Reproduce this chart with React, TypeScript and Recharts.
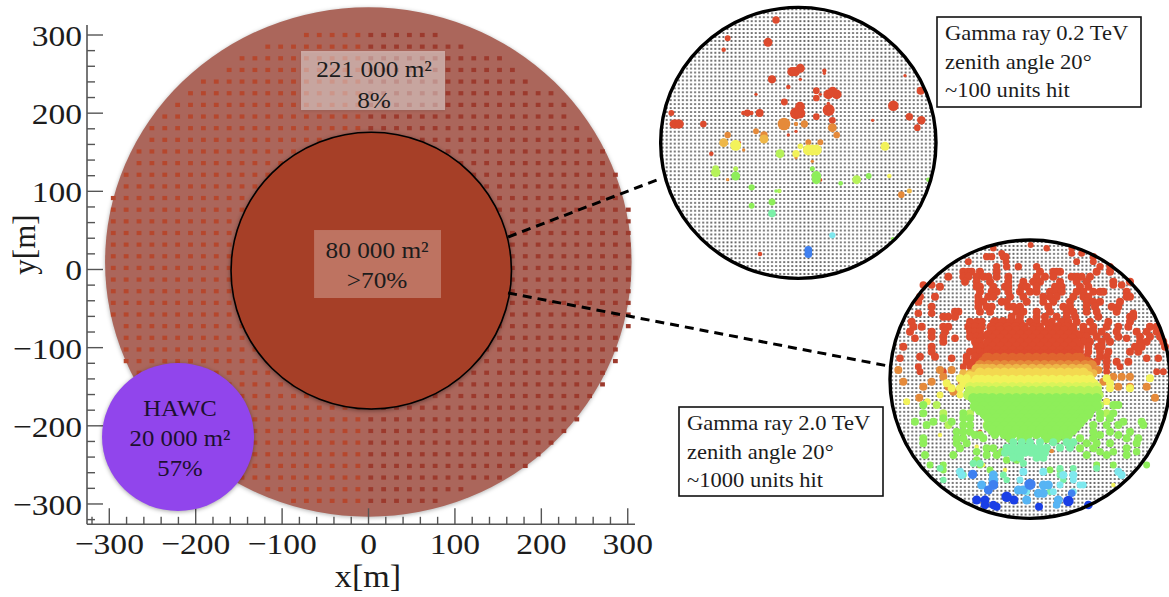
import React from 'react';
import { ScatterChart, Scatter, XAxis, YAxis, ZAxis, ReferenceArea, ReferenceLine } from 'recharts';

const SERIF = '"Liberation Serif", serif';
const WIDTH = 1169;
const HEIGHT = 597;

const xTicks = [-320,-300,-280,-260,-240,-220,-200,-180,-160,-140,-120,-100,-80,-60,-40,-20,0,20,40,60,80,100,120,140,160,180,200,220,240,260,280,300];
const yTicks = [-320,-300,-280,-260,-240,-220,-200,-180,-160,-140,-120,-100,-80,-60,-40,-20,0,20,40,60,80,100,120,140,160,180,200,220,240,260,280,300];
const xDomain = [-325.8, 308.4];
const yDomain = [-326, 312.8];

const unitColumns = [-295.4,-280.5,-265.6,-250.7,-235.8,-220.9,-206,-191.1,-176.2,-161.3,-146.4,-131.5,-116.6,-101.7,-86.8,-71.9,-57,-42.1,-27.2,-12.3,2.6,17.5,32.4,47.3,62.2,77.1,92,106.9,121.8,136.7,151.6,166.5,181.4,196.3,211.2,226.1,241,255.9,270.8,285.7,300.6];
const unitRows = [300,285.1,270.2,255.3,240.4,225.5,210.6,195.7,180.8,165.9,151,136.1,121.2,106.3,91.4,76.5,61.6,46.7,31.8,16.9,2,-12.9,-27.8,-42.7,-57.6,-72.5,-87.4,-102.3,-117.2,-132.1,-147,-161.9,-176.8,-191.7,-206.6,-221.5,-236.4,-251.3,-266.2,-281.1,-296];
const rowFirstColumn = [15,12,10,9,7,6,5,4,3,3,2,2,1,1,0,0,0,0,0,0,0,0,0,0,0,1,1,1,1,2,2,3,4,5,6,7,8,9,10,12,14];
const rowLastColumn = [25,27,30,31,32,34,35,35,36,37,38,38,39,39,39,40,40,40,40,40,40,40,40,40,40,40,39,39,39,38,38,37,36,36,35,34,33,32,30,27,25];

const units = unitRows.flatMap((y, r) =>
  unitColumns.filter((_, c) => c >= rowFirstColumn[r] && c <= rowLastColumn[r]).map((x) => ({ x, y })),
);
const unitsWest = units.filter((u) => u.x < 0);
const unitsEast = units.filter((u) => u.x >= 0);

const palette = ['#dd4b2e','#e0652f','#e58a3a','#eeb748','#f3d850','#f2f25a','#d9f45a','#b6f25a','#8eee5a','#7bf0a8','#7ee8ee','#56b4f4','#3f80f0','#1a3fe6'];

type Row = number[];
const event1Rows: Row[] = [
  [0,34,60,378],[0,22,115,233],[0,13,149,221],[0,50,127,354],[0,42,238,366],
  [0,55,215,426,436],[0,50,205,451],[0,7,238,451],[0,12,212,523],[0,7,220,523],[0,13,261,415],
  [0,28,272,499],[0,28,294,499],[0,7,283,318,511],[0,30,306,403],[0,60,283,535,560],[0,60,275,548],
  [0,7,310,535],[0,60,320,450],[0,90,340,438],[0,70,340,450],[0,90,330,536],[0,28,350,499],[0,30,361,547],
  [0,30,339,292],[0,13,339,280,304],[0,40,339,329],[0,22,339,64],[0,50,372,72,80,88],[0,28,372,160],
  [0,70,317,730],[0,35,350,778],[0,45,361,814],[0,28,383,802],[0,40,272,812],[0,7,227,765],[0,7,361,668],
  [0,7,540,512],[0,7,439,499],[0,7,427,268],[0,13,461,184],[0,13,762,330],[0,7,394,438],[0,7,405,415],
  [2,100,372,402],[2,34,372,463],[2,12,372,438],[2,50,383,547],[2,28,405,560],[2,22,394,318],[2,34,405,342],
  [2,26,405,233],[2,22,427,511,475],[2,28,584,754],[2,7,484,487],[2,7,539,233],[2,7,450,281],[2,7,473,438],
  [3,50,417,342],[3,50,428,221],[3,16,573,778],
  [5,75,436,257],[5,20,439,451],[5,75,450,475,487,499],[5,50,439,705],[5,13,528,718],[5,34,461,438],
  [7,50,461,390],[7,55,517,197],[7,28,506,197],[7,16,506,257],[7,50,539,620],[7,13,573,388],
  [8,50,528,257],[8,16,506,487],[8,60,528,499],[8,50,539,499],[8,25,562,305],[8,14,550,572],[8,22,528,656],
  [8,30,606,366],[8,22,617,305],[8,8,573,378],[8,13,539,835],[8,8,716,728],
  [9,38,640,366],[10,25,706,547],[12,38,750,475],[12,38,762,475],
];

const blobA = [325,349,373,397,421,445,469,493,517,541,565,589];
const blobB = [337,361,385,409,433,457,481,505,529,553,577];

const event2Rows: Row[] = [
  [0,22,30,452],[0,26,40,340,500,575],[0,30,55,365,575,605],[0,34,65,320,335,370,378,640],[0,30,80,378,265,590,640],
  [0,34,95,415,350,470,380,660,690],[0,40,110,250,265,275,300,350,690,480,540,530,650,520],
  [0,40,125,250,265,290,310,325,350,385,470,495,520,575,590,605,630,205],
  [0,40,140,255,290,330,385,430,460,480,540,590,620,700,750],
  [0,40,155,290,300,340,375,385,425,440,470,525,545,600,625,180],
  [0,40,170,300,335,350,385,420,450,470,510,530,545,590,610,640,660,670,740],
  [0,40,185,295,325,340,390,430,490,510,530,580,610,625,740,750,120,165],
  [0,40,200,295,310,365,380,440,490,520,570,620,640,660,115,720],
  [0,40,215,295,320,335,385,400,420,505,550,570,620,645,695,715,155],
  [0,40,230,235,225,300,330,410,430,470,510,560,580,620,650,710],
  [0,40,245,190,205,225,395,420,470,495,530,560,655,585,750,760],
  [0,40,260,95,270,290,305,450,470,495,515,545,565,590,630,685,750],
  [0,40,275,100,125,190,205,265,285,305,460,480,580,610,640,680,715,745,810,830],
  [0,40,290,90,155,195,270,285,300,610,625,640,665,710,770,800,830],
  [0,40,305,155,190,270,290,305,610,620,650,680,715,780,810,840],
  [0,40,320,190,285,300,610,630,665,690,780,800,850],
  [0,40,335,70,155,290,305,600,625,655,665,765,785,855],
  [0,40,350,155,270,285,300,315,600,625,660,685,750,775],
  [0,40,365,120,165,260,285,305,600,620,660,680],
  [0,40,380,260,280,300,630,650,680,710,745],
  [0,30,395,115,250,270,625,680,720],
  [0,30,410,120,190,610,680,830,850],
  [0,36,150,130,155,700,725],[0,36,235,115,155,760],[0,36,310,105,225,740],[0,36,370,60,215,800,835],
  [0,70,262,345,369,393,417],
  [0,70,277,335,359,383,407,431,510,534,558],
  [0,70,288,...blobB],[0,70,300,...blobA],[0,70,312,...blobB],[0,70,324,...blobA],[0,70,336,...blobB],[0,70,348,...blobA],[0,70,358,...blobB],
  [1,70,369,...blobA,320,600],[1,70,380,...blobB,310,600,620],
  [2,40,405,55,180,215,655,610],[2,40,425,190,725,750,700],[2,40,440,70,155,245,670],[2,40,455,130,205,715,750,800],[2,40,470,220],[2,40,488,118,825],[2,30,500,680],
  [2,70,391,...blobA,300,615,635],[3,70,402,...blobB,290,305,320,600,620],[3,40,415,250,270,620,640],[4,70,413,...blobA,300,610],
  [4,70,424,...blobB,270,290,310,600,625],
  [5,40,430,240,260,680,810],[5,40,445,200,250,270,690,630],[5,40,460,215,240,270,690,750],[5,30,480,280,180,240],[5,30,500,142,680,80],
  [5,70,435,...blobA,290,305,610,630],[5,70,446,...blobB,280,300,315,600,620,640],[6,70,457,...blobA,270,290,305,610,630,650],
  [7,70,468,...blobB,270,295,315,600,625,650],[7,70,479,...blobA,265,290,305,610,630,655],
  [7,40,510,170,660,710],[7,40,535,190,270,680],[7,40,570,205,320],
  [8,70,490,...blobB,280,300,315,600,625,650],[8,70,502,...blobA,300,610,635],[8,70,514,...blobB,285,310,600,625,650],
  [8,70,526,...blobA,300,610,630],[8,70,538,...blobB,315,600,625],[8,70,550,...blobA,610],[8,70,562,...blobB,600],
  [8,70,574,...blobA],[8,70,586,...blobB],[8,60,598,373,397,421,445,469,493,517,541,565],[8,60,610,390,425,440,500,530,560],
  [8,40,510,130,700,715],[8,40,535,130,250,660,700],[8,40,550,190,250,270,660,690],
  [8,40,570,140,250,270,640,680,715,790],[8,40,590,230,250,270,640,690,750],
  [8,40,610,130,230,250,310,640,600,740,775],[8,40,625,130,230,260,620,650,690,770],
  [8,40,640,240,320,340,600,640,740],[8,40,660,135,220,320,350,620,680,740],[8,34,675,290,380,410],[8,30,690,150,190,300,650,700,800],[8,30,705,190,330,510,540],
  [8,40,560,105,160,215,730,785],[8,40,600,285,300,345,660,715],[8,36,650,290,365,660,700,770],
  [9,40,622,400,425,450,480,520,560,580],[9,40,638,380,400,420,440,460,480,500,540,570],[9,40,653,375,395,415,435,455,475,495],[9,40,668,400,420,470,490],
  [9,34,685,280,300,430],[9,30,700,180,540,580,650],[9,30,720,250,370,540],[9,26,735,190,380,550],[9,26,770,510],
  [10,40,710,240,430,490,715],[10,40,720,245,725,550,580],[10,30,735,580,420],[10,30,750,600,610,540],[10,30,770,440,520,580],
  [11,50,720,340],[11,60,735,340],[11,50,750,305,490,505],[11,50,765,430,415],[11,50,775,475,490],[11,50,795,535,440],[11,36,810,530],
  [12,55,718,278],[12,80,748,450],[12,60,750,340],[12,50,765,325],[12,36,775,575],
  [13,50,795,290,315,402],[13,70,785,380],[13,70,798,565],[13,46,810,315,340,625],[13,40,815,350,477],
  [5,12,635,290],[5,12,600,180],[5,12,690,310],[5,12,750,700],[5,12,705,375],
  [0,12,545,475],[0,12,553,515],[0,12,495,350],[0,12,520,335],[1,12,590,300],[2,14,648,515],
];

const toHits = (rows: Row[]) =>
  rows.flatMap(([band, charge, row, ...columns]) => columns.map((col) => ({ col, row, charge, band })));
const event1Hits = toHits(event1Rows);
const event2Hits = toHits(event2Rows);

const areaLabels = {
  ring: ['221 000 m²', '8%'],
  core: ['80 000 m²', '>70%'],
  hawc: ['HAWC', '20 000 m²', '57%'],
};
const event1Lines = ['Gamma ray 0.2 TeV', 'zenith angle 20°', '~100 units hit'];
const event2Lines = ['Gamma ray 2.0 TeV', 'zenith angle 20°', '~1000 units hit'];

const STRETCH = 1.1;

function Stretched({ x, y, size, anchor = 'middle', children, fill = '#1c1c1c' }: any) {
  return (
    <text transform={`translate(${x},${y}) scale(${STRETCH},1)`} fontFamily={SERIF} fontSize={size} textAnchor={anchor} fill={fill}>
      {children}
    </text>
  );
}

const XTick = ({ x, y, payload }: any) => {
  const v = payload.value;
  const major = v % 100 === 0;
  return (
    <g>
      <line x1={x} x2={x} y1={y} y2={y - (major ? 16 : 7.5)} stroke="#555" strokeWidth={1.4} />
      {major && <Stretched x={x} y={y + 30} size={30.5}>{String(v).replace('-', '\u2212')}</Stretched>}
    </g>
  );
};

const YTick = ({ x, y, payload }: any) => {
  const v = payload.value;
  const major = v % 100 === 0;
  return (
    <g>
      <line x1={x} x2={x + (major ? 16 : 8)} y1={y} y2={y} stroke="#555" strokeWidth={1.4} />
      {major && <Stretched x={x - 5} y={y + 11} size={30.5} anchor="end">{String(v).replace('-', '\u2212')}</Stretched>}
    </g>
  );
};

const XTitle = () => <Stretched x={368} y={587} size={31}>x[m]</Stretched>;

const UnitMark = ({ cx, cy, fill }: any) => <rect x={cx - 2.4} y={cy - 2.1} width={4.8} height={4.2} fill={fill} />;

const oval = (fill: string, stroke: string, strokeWidth: number, filter?: string) => (p: any) => (
  <ellipse cx={p.x + p.width / 2} cy={p.y + p.height / 2} rx={p.width / 2} ry={p.height / 2} fill={fill} stroke={stroke} strokeWidth={strokeWidth} style={filter ? { filter } : undefined} />
);

const tintedBox = (fill: string, shadow: boolean, lines: string[], dy: number[], cx: number) => (p: any) => (
  <g>
    <rect x={p.x} y={p.y} width={p.width} height={p.height} fill={fill} style={shadow ? { filter: 'drop-shadow(0 1px 1px rgba(0,0,0,.25))' } : undefined} />
    {lines.map((t, i) => (
      <Stretched key={t} x={p.x + cx} y={p.y + dy[i]} size={23}>{t}</Stretched>
    ))}
  </g>
);

const hawcShape = (p: any) => (
  <g>
    {oval('#9145ec', 'none', 0, 'drop-shadow(0 1px 2px rgba(0,0,0,.35))')(p)}
    {areaLabels.hawc.map((t, i) => (
      <Stretched key={t} x={p.x + 78} y={p.y + 53 + i * 30} size={22.5} fill="#1d1030">{t}</Stretched>
    ))}
  </g>
);

const noteBox = (lines: string[]) => (p: any) => (
  <g>
    <rect x={p.x} y={p.y} width={p.width} height={p.height} fill="#fff" stroke="#111" strokeWidth={1.6} />
    {lines.map((t, i) => (
      <Stretched key={t} x={p.x + 8} y={p.y + 23 + i * 28.5} size={20.5} anchor="start">{t}</Stretched>
    ))}
  </g>
);

const latticeOval = (id: string) => (p: any) => (
  <g>
    <defs>
      <pattern id={id} x={p.x} y={p.y} width={4.05} height={3.95} patternUnits="userSpaceOnUse">
        <rect width={4.05} height={3.95} fill="#fff" />
        <rect x={1.1} y={1.1} width={1.8} height={1.8} fill="#555" />
      </pattern>
    </defs>
    <ellipse cx={p.x + p.width / 2} cy={p.y + p.height / 2} rx={p.width / 2} ry={p.height / 2} fill={`url(#${id})`} />
  </g>
);

const ringOnly = (p: any) => (
  <ellipse cx={p.x + p.width / 2} cy={p.y + p.height / 2} rx={p.width / 2} ry={p.height / 2} fill="none" stroke="#000" strokeWidth={3.4} />
);

const layer: React.CSSProperties = { position: 'absolute' };
const none: any[] = [];

function Event({ left, top, width, height, xd, yd, hits, id, circle, note, lines }: any) {
  return (
    <div style={{ ...layer, left, top, width, height }}>
      <ScatterChart width={width} height={height} margin={{ top: 0, right: 0, bottom: 0, left: 0 }}>
        <XAxis type="number" dataKey="col" domain={xd} hide allowDataOverflow />
        <YAxis type="number" dataKey="row" domain={yd} hide reversed allowDataOverflow />
        <ZAxis type="number" dataKey="charge" domain={[0, 120]} range={[0, 150]} />
        <ReferenceArea x1={circle[0]} x2={circle[1]} y1={circle[2]} y2={circle[3]} ifOverflow="visible" shape={latticeOval(id)} />
        {palette.map((color, band) => {
          const data = hits.filter((h: any) => h.band === band);
          return data.length ? <Scatter key={band} data={data} fill={color} isAnimationActive={false} /> : null;
        })}
        <ReferenceArea x1={note[0]} x2={note[1]} y1={note[2]} y2={note[3]} ifOverflow="visible" shape={noteBox(lines)} />
      </ScatterChart>
    </div>
  );
}

function RingOverlay({ left, top, width, height, xd, yd, circle }: any) {
  return (
    <div style={{ ...layer, left, top, width, height }}>
      <ScatterChart width={width} height={height} margin={{ top: 0, right: 0, bottom: 0, left: 0 }}>
        <XAxis type="number" dataKey="col" domain={xd} hide allowDataOverflow />
        <YAxis type="number" dataKey="row" domain={yd} hide reversed allowDataOverflow />
        <Scatter data={none} isAnimationActive={false} />
        <ReferenceArea x1={circle[0]} x2={circle[1]} y1={circle[2]} y2={circle[3]} ifOverflow="visible" shape={ringOnly} />
      </ScatterChart>
    </div>
  );
}

export default function App() {
  const mainMargin = { top: 25, right: WIDTH - 635, bottom: HEIGHT - 524.3, left: 87 };
  return (
    <div style={{ position: 'absolute', left: 0, top: 0, width: WIDTH, height: HEIGHT, overflow: 'hidden', background: '#fff' }}>
      <div style={{ ...layer, left: 0, top: 0 }}>
        <ScatterChart width={WIDTH} height={HEIGHT} margin={{ ...mainMargin, left: 0, bottom: 0 }}>
          <XAxis
            type="number" dataKey="x" domain={xDomain} ticks={xTicks} interval={0} allowDataOverflow
            height={HEIGHT - 524.3} tickSize={0} tickMargin={0} tickLine={false} tick={XTick}
            axisLine={{ stroke: '#555', strokeWidth: 1.6 }}
            label={XTitle}
          />
          <YAxis
            type="number" dataKey="y" domain={yDomain} ticks={yTicks} interval={0} allowDataOverflow
            width={87} tickSize={0} tickMargin={0} tickLine={false} tick={YTick}
            axisLine={{ stroke: '#555', strokeWidth: 1.6 }}
            label={{ value: 'y[m]', angle: -90, position: 'insideLeft', offset: 24, fontSize: 31, fontFamily: SERIF, fill: '#1c1c1c' }}
          />
          <ReferenceArea x1={-304.9} x2={304.4} y1={335.5} y2={-316.2} ifOverflow="visible"
            shape={oval('#ab665b', 'none', 0, 'drop-shadow(0 1px 2px rgba(0,0,0,.3))')} />
          <Scatter data={unitsWest} fill="#b6472d" shape={UnitMark} isAnimationActive={false} />
          <Scatter data={unitsEast} fill="#9c3a2d" shape={UnitMark} isAnimationActive={false} />
        </ScatterChart>
      </div>

      <div style={{ ...layer, left: 0, top: 0 }}>
        <ScatterChart width={WIDTH} height={HEIGHT} margin={mainMargin}>
          <XAxis type="number" dataKey="x" domain={xDomain} hide allowDataOverflow />
          <YAxis type="number" dataKey="y" domain={yDomain} hide allowDataOverflow />
          <Scatter data={none} isAnimationActive={false} />
          <ReferenceArea x1={-78.1} x2={88.5} y1={279.5} y2={204} ifOverflow="visible"
            shape={tintedBox('rgba(255,255,255,.45)', true, areaLabels.ring, [26, 57], 73)} />
          <ReferenceArea x1={-159.1} x2={165.4} y1={175.5} y2={-178.5} ifOverflow="visible"
            shape={oval('#a63f27', '#000', 1.6, 'drop-shadow(0 1px 2px rgba(0,0,0,.4))')} />
          <ReferenceArea x1={-63} x2={83.9} y1={50.5} y2={-36.5} ifOverflow="visible"
            shape={tintedBox('rgba(255,255,255,.27)', false, areaLabels.core, [28, 58], 63)} />
          <ReferenceArea x1={-308.4} x2={-132.5} y1={-119.6} y2={-309} ifOverflow="visible" shape={hawcShape} />
          <ReferenceLine ifOverflow="visible" stroke="#000" strokeWidth={3} strokeDasharray="9 6"
            segment={[{ x: 161.5, y: 41.6 }, { x: 339.7, y: 117 }]} />
          <ReferenceLine ifOverflow="visible" stroke="#000" strokeWidth={3} strokeDasharray="9 6"
            segment={[{ x: 161.5, y: -30 }, { x: 601.3, y: -123.4 }]} />
        </ScatterChart>
      </div>

      <Event left={650} top={0} width={519} height={300} xd={[0, 1557]} yd={[0, 900]} hits={event1Hits}
        id="lat1" circle={[32, 858, 22, 835]} note={[861, 1473, 51, 321]} lines={event1Lines} />
      <RingOverlay left={650} top={0} width={519} height={300} xd={[0, 1557]} yd={[0, 900]} circle={[32, 858, 22, 835]} />
      <Event left={670} top={235} width={499} height={290} xd={[-630, 867]} yd={[0, 870]} hits={event2Hits}
        id="lat2" circle={[30, 870, 15, 850]} note={[-603, 9, 516, 783]} lines={event2Lines} />
      <RingOverlay left={670} top={235} width={499} height={290} xd={[-630, 867]} yd={[0, 870]} circle={[30, 870, 15, 850]} />
    </div>
  );
}
